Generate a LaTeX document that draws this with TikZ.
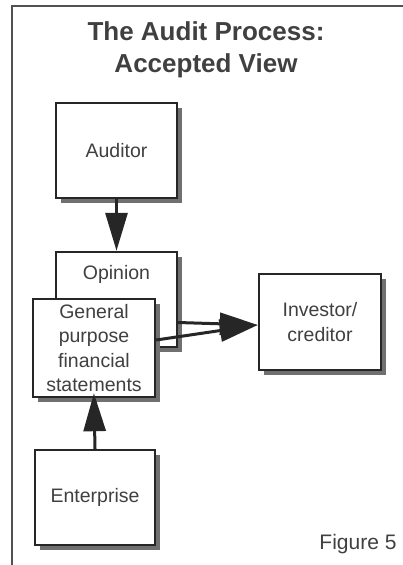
\documentclass[tikz,border=0pt]{standalone}
\usepackage{fontspec}
\setmainfont{Liberation Sans}
\usetikzlibrary{positioning,arrows.meta,shadows,calc}
\definecolor{ink}{HTML}{262626}
\definecolor{textgrey}{HTML}{404040}
\definecolor{shade}{HTML}{707070}
\tikzset{box/.style={shape=rectangle, draw=ink, line width=2.4pt, fill=white,
  minimum width=121pt, minimum height=95pt, inner sep=1pt, align=center,
  text=textgrey, font=\fontsize{19.5}{24.5}\selectfont,
  drop shadow={shadow xshift=5pt, shadow yshift=-5pt, fill=shade, opacity=1}},
  flow/.style={draw=ink, line width=3pt, -{Triangle[length=38pt, width=22pt]}}}

\begin{document}
\begin{tikzpicture}[x=1pt, y=-1pt]
    \useasboundingbox (0,0) rectangle (403,565);
    % frame
    \draw [ink!80, line width=1.6pt] (12,565) -- (12,6) -- (403,6);
    \node [text=textgrey, font=\fontsize{26}{32}\selectfont\bfseries, align=center]
        at (206,50) (title) {The Audit Process:\\Accepted View};
    \node [box] at (116.5,150.5) (auditor) {Auditor};
    \node [box] at (116.5,299.5) (opinion) {};
    \node [text=textgrey, font=\fontsize{19.5}{24.5}\selectfont, below=11pt of opinion.north]
        (opinion-text) {Opinion};
    \node [box, minimum width=122pt, minimum height=98pt] at (94,348) (general)
        {General\\purpose\\financial\\statements};
    \node [box, minimum width=122pt, minimum height=96pt] at (320,322) (investor)
        {Investor/\\creditor};
    \node [box, minimum width=120pt] at (95,497.5) (enterprise) {Enterprise};
    \node [text=textgrey, font=\fontsize{21}{24}\selectfont, anchor=south east]
        at (400,557) (figno) {Figure 5};
    % arrows
    \draw [flow] (auditor.south) -- (opinion.north);
    \draw [flow, shorten >=-5pt] (enterprise.north) -- (general.south);
    \draw [flow] ([yshift=-23pt]opinion.east) -- ([yshift=-3pt]investor.west);
    \draw [flow] ([yshift=8pt]general.east) -- ([yshift=-3pt]investor.west);
\end{tikzpicture}
\end{document}
